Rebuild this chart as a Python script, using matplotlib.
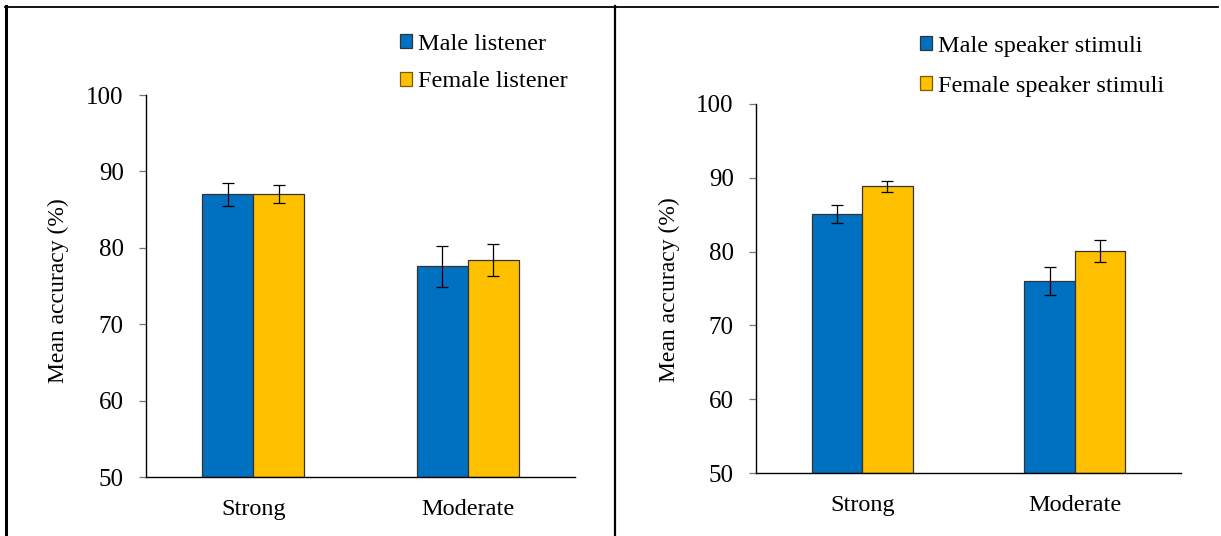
import matplotlib
matplotlib.use("Agg")
import matplotlib.pyplot as plt
import numpy as np
from matplotlib.lines import Line2D
from matplotlib.patches import Patch

plt.rcParams['font.family'] = ['Liberation Serif', 'DejaVu Serif']

categories = ["Strong", "Moderate"]

# Left panel: listener gender
left_labels = ["Male listener", "Female listener"]
left_male = [87.0, 77.6]
left_male_err = [1.5, 2.7]
left_female = [87.0, 78.4]
left_female_err = [1.2, 2.05]

# Right panel: speaker gender
right_labels = ["Male speaker stimuli", "Female speaker stimuli"]
right_male = [85.1, 76.0]
right_male_err = [1.25, 1.9]
right_female = [88.85, 80.05]
right_female_err = [0.75, 1.5]

yticks = [50, 60, 70, 80, 90, 100]
ylabel = "Mean accuracy (%)"

BLUE = "#0070C0"
YELLOW = "#FFC000"
W, H = 1221, 536
FS = 17.5

fig = plt.figure(figsize=(W / 100, H / 100), dpi=100)


def px_axes(x0, x1, ytop, ybot):
    return fig.add_axes([x0 / W, 1 - ybot / H, (x1 - x0) / W, (ybot - ytop) / H])


def draw_panel(ax, male, male_err, female, female_err, labels, leg_anchor,
               ylab_xy, lspace):
    x = np.arange(len(categories))
    bw = 0.237
    kw = dict(edgecolor="#333333", linewidth=0.9)
    ekw = dict(ecolor="black", elinewidth=0.9, capsize=4.5, capthick=0.9)
    ax.bar(x - bw / 2, np.array(male) - 50, bw, bottom=50, color=BLUE,
           yerr=male_err, error_kw=ekw, label=labels[0], **kw)
    ax.bar(x + bw / 2, np.array(female) - 50, bw, bottom=50, color=YELLOW,
           yerr=female_err, error_kw=ekw, label=labels[1], **kw)
    ax.set_xlim(-0.5, 1.5)
    ax.set_ylim(50, 100)
    ax.set_yticks(yticks)
    ax.set_xticks(x)
    ax.set_xticklabels(categories, fontsize=FS)
    ax.tick_params(axis="x", length=0, pad=16)
    ax.tick_params(axis="y", length=5, width=0.9, color="#777777",
                   labelsize=18, pad=11, direction="out")
    for s in ["top", "right"]:
        ax.spines[s].set_visible(False)
    for s in ["left", "bottom"]:
        ax.spines[s].set_linewidth(1.0)
        ax.spines[s].set_color("black")
    ax.set_ylabel(ylabel, fontsize=17)
    ax.yaxis.set_label_coords(ylab_xy[0] / W, 1 - ylab_xy[1] / H,
                              transform=fig.transFigure)
    handles = [Patch(facecolor=BLUE, edgecolor="#333333", linewidth=0.9),
               Patch(facecolor=YELLOW, edgecolor="#7a5a00", linewidth=0.9)]
    fig.legend(handles, labels, loc="upper left",
               bbox_to_anchor=leg_anchor, bbox_transform=fig.transFigure,
               frameon=False, fontsize=FS, handlelength=0.5,
               handleheight=0.5, handletextpad=0.22, labelspacing=lspace,
               borderaxespad=0, borderpad=0)


axL = px_axes(146, 575, 95, 477)
draw_panel(axL, left_male, left_male_err, left_female, left_female_err,
           left_labels, (400 / W, 1 - 34 / H), (69, 291), 0.67)

axR = px_axes(756, 1181, 104, 473)
draw_panel(axR, right_male, right_male_err, right_female, right_female_err,
           right_labels, (920 / W, 1 - 36 / H), (680, 290), 0.78)

# Frame lines
def fig_line(x0, y0, x1, y1, lw):
    fig.add_artist(Line2D([x0 / W, x1 / W], [1 - y0 / H, 1 - y1 / H],
                          transform=fig.transFigure, color="black", lw=lw))

fig_line(5, 7, 1218, 7, 1.3)
fig_line(6, 6, 6, 536, 2.2)
fig_line(614.5, 6, 614.5, 536, 1.6)

fig.savefig("out.png", dpi=100)
